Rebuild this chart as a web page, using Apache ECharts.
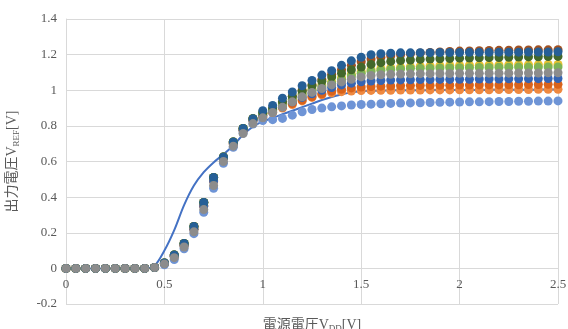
<!DOCTYPE html>
<html>
<head>
<meta charset="utf-8">
<script src="https://cdn.jsdelivr.net/npm/echarts@6/dist/echarts.min.js"></script>
<style>
  html, body { margin: 0; padding: 0; background: #fff; }
  #chart { width: 568px; height: 329px; }
</style>
</head>
<body>
<div id="chart"></div>
<script>
// supply voltage VDD [V], 0.05 V steps
const vdd = [
  0, 0.05, 0.1, 0.15, 0.2, 0.25, 0.3, 0.35, 0.4, 0.45,
  0.5, 0.55, 0.6, 0.65, 0.7, 0.75, 0.8, 0.85, 0.9, 0.95,
  1, 1.05, 1.1, 1.15, 1.2, 1.25, 1.3, 1.35, 1.4, 1.45,
  1.5, 1.55, 1.6, 1.65, 1.7, 1.75, 1.8, 1.85, 1.9, 1.95,
  2, 2.05, 2.1, 2.15, 2.2, 2.25, 2.3, 2.35, 2.4, 2.45, 2.5
];

// simulated curve (solid line)
const simLine = [
  0, 0, 0, 0, 0, 0, 0, 0, 0, 0.015,
  0.1, 0.215, 0.355, 0.465, 0.54, 0.595, 0.64, 0.69, 0.75, 0.795,
  0.825, 0.845, 0.865, 0.885, 0.905, 0.925, 0.945, 0.962, 0.976, 0.988,
  0.995, 0.997, 0.998, 0.999, 1, 1, 1, 1.001, 1.001, 1.001,
  1.002, 1.002, 1.002, 1.002, 1.003, 1.003, 1.003, 1.003, 1.004, 1.004, 1.004
];

// measured samples (markers)
const lowStart = [0, 0, 0, 0, 0, 0, 0, 0, 0, 0.005];

const brown = lowStart.concat([
  0.03, 0.075, 0.14, 0.235, 0.37, 0.51, 0.625, 0.71, 0.785, 0.84,
  0.87, 0.895, 0.93, 0.965, 1.0, 1.03, 1.06, 1.09, 1.115, 1.14,
  1.16, 1.175, 1.185, 1.193, 1.2, 1.205, 1.209, 1.212, 1.215, 1.218,
  1.22, 1.221, 1.222, 1.223, 1.224, 1.225, 1.226, 1.226, 1.227, 1.227, 1.228
]);
const lightBlue = lowStart.concat([
  0.02, 0.05, 0.11, 0.195, 0.315, 0.45, 0.59, 0.68, 0.76, 0.81,
  0.83, 0.835, 0.842, 0.86, 0.879, 0.892, 0.9, 0.907, 0.912, 0.917,
  0.92, 0.922, 0.924, 0.926, 0.928, 0.929, 0.93, 0.931, 0.932, 0.933,
  0.934, 0.935, 0.935, 0.936, 0.937, 0.937, 0.938, 0.938, 0.939, 0.939, 0.94
]);
const orange = lowStart.concat([
  0.028, 0.068, 0.13, 0.22, 0.35, 0.49, 0.62, 0.7, 0.775, 0.83,
  0.85, 0.875, 0.9, 0.92, 0.94, 0.96, 0.975, 0.985, 0.992, 0.996,
  0.998, 0.999, 1.0, 1.0, 1.001, 1.001, 1.001, 1.002, 1.002, 1.002,
  1.003, 1.003, 1.003, 1.003, 1.004, 1.004, 1.004, 1.004, 1.005, 1.005, 1.005
]);
const darkOrange = lowStart.concat([
  0.028, 0.068, 0.13, 0.22, 0.35, 0.49, 0.62, 0.7, 0.775, 0.83,
  0.855, 0.88, 0.905, 0.925, 0.945, 0.965, 0.98, 0.995, 1.005, 1.013,
  1.018, 1.021, 1.023, 1.024, 1.025, 1.026, 1.027, 1.027, 1.028, 1.028,
  1.029, 1.029, 1.03, 1.03, 1.03, 1.031, 1.031, 1.032, 1.032, 1.033, 1.033
]);
const gold = lowStart.concat([
  0.03, 0.075, 0.14, 0.235, 0.37, 0.51, 0.625, 0.71, 0.785, 0.84,
  0.87, 0.89, 0.92, 0.95, 0.98, 1.005, 1.03, 1.05, 1.07, 1.09,
  1.105, 1.115, 1.122, 1.127, 1.13, 1.133, 1.135, 1.137, 1.138, 1.139,
  1.14, 1.141, 1.141, 1.142, 1.142, 1.143, 1.143, 1.144, 1.144, 1.145, 1.145
]);
const blue = lowStart.concat([
  0.028, 0.068, 0.13, 0.22, 0.35, 0.49, 0.62, 0.7, 0.775, 0.83,
  0.86, 0.885, 0.91, 0.935, 0.96, 0.98, 1.0, 1.015, 1.03, 1.04,
  1.048, 1.052, 1.055, 1.057, 1.058, 1.059, 1.06, 1.06, 1.061, 1.061,
  1.062, 1.062, 1.063, 1.063, 1.063, 1.064, 1.064, 1.065, 1.065, 1.066, 1.066
]);
const lightGreen = lowStart.concat([
  0.03, 0.075, 0.14, 0.235, 0.37, 0.51, 0.625, 0.71, 0.785, 0.84,
  0.87, 0.89, 0.915, 0.945, 0.975, 1.0, 1.02, 1.04, 1.06, 1.08,
  1.095, 1.105, 1.112, 1.117, 1.12, 1.122, 1.123, 1.124, 1.125, 1.126,
  1.127, 1.127, 1.128, 1.128, 1.129, 1.129, 1.13, 1.13, 1.13, 1.131, 1.131
]);
const darkGreen = lowStart.concat([
  0.03, 0.075, 0.14, 0.235, 0.37, 0.51, 0.625, 0.71, 0.785, 0.84,
  0.875, 0.9, 0.935, 0.965, 0.995, 1.025, 1.05, 1.075, 1.095, 1.115,
  1.13, 1.145, 1.155, 1.162, 1.167, 1.17, 1.173, 1.175, 1.177, 1.178,
  1.18, 1.181, 1.182, 1.183, 1.184, 1.185, 1.186, 1.187, 1.188, 1.189, 1.19
]);
const darkBlue = lowStart.concat([
  0.03, 0.075, 0.14, 0.235, 0.37, 0.51, 0.625, 0.71, 0.785, 0.84,
  0.885, 0.915, 0.955, 0.99, 1.025, 1.055, 1.085, 1.11, 1.14, 1.165,
  1.185, 1.2, 1.205, 1.208, 1.21, 1.21, 1.211, 1.211, 1.212, 1.212,
  1.212, 1.213, 1.213, 1.213, 1.214, 1.214, 1.214, 1.215, 1.215, 1.215, 1.216
]);
const gray = lowStart.concat([
  0.025, 0.06, 0.12, 0.205, 0.33, 0.465, 0.6, 0.686, 0.757, 0.813,
  0.845, 0.875, 0.905, 0.935, 0.963, 0.988, 1.01, 1.03, 1.047, 1.062,
  1.075, 1.083, 1.087, 1.09, 1.091, 1.092, 1.093, 1.093, 1.094, 1.094,
  1.095, 1.095, 1.095, 1.096, 1.096, 1.096, 1.097, 1.097, 1.097, 1.098, 1.098
]);

// drawing order: first is at the bottom
const markerSeries = [
  { name: 'brown', data: brown, color: '#A2501F' },
  { name: 'lightBlue', data: lightBlue, color: '#6E94D6' },
  { name: 'orange', data: orange, color: '#EF8940' },
  { name: 'darkOrange', data: darkOrange, color: '#D9631B' },
  { name: 'gold', data: gold, color: '#E8C230' },
  { name: 'blue', data: blue, color: '#3565B4' },
  { name: 'lightGreen', data: lightGreen, color: '#7DB356' },
  { name: 'darkGreen', data: darkGreen, color: '#43682B' },
  { name: 'darkBlue', data: darkBlue, color: '#265F96' },
  { name: 'gray', data: gray, color: '#8C8C8C' },
];

const font = "'Liberation Serif', 'Noto Sans CJK JP', serif";
const textColor = '#595959';
const gridColor = '#D9D9D9';

const chart = echarts.init(document.getElementById('chart'), null, { renderer: 'canvas' });

const series = [
  {
    type: 'line',
    data: vdd.map((x, i) => [x, simLine[i]]),
    showSymbol: false,
    smooth: 0.3,
    lineStyle: { color: '#4472C4', width: 2 },
    z: 1,
  },
].concat(markerSeries.map((s, k) => ({
  type: 'scatter',
  name: s.name,
  data: vdd.map((x, i) => [x, s.data[i]]),
  symbolSize: 9,
  itemStyle: { color: s.color, opacity: 1 },
  z: 2 + k,
})));

const subStyle = { fontFamily: font, fontSize: 9, color: textColor, verticalAlign: 'bottom', padding: [8, 0, 0, 0] };

chart.setOption({
  animation: false,
  grid: { left: 66, right: 10, top: 19, bottom: 25, outerBoundsMode: 'none', containLabel: false },
  xAxis: {
    type: 'value',
    min: 0,
    max: 2.5,
    interval: 0.5,
    // the axis sits on y = 0, one 0.2 step above the bottom of the grid
    offset: -35.6,
    name: '電源電圧V{sub|DD}[V]',
    nameLocation: 'middle',
    nameGap: 48,
    nameMoveOverlap: false,
    nameTextStyle: { fontFamily: font, fontSize: 14, color: textColor, rich: { sub: subStyle } },
    axisLine: { onZero: false, lineStyle: { color: gridColor, width: 1 } },
    axisTick: { show: false },
    axisLabel: { fontFamily: font, fontSize: 13, color: textColor, margin: 10 },
    splitLine: { show: true, lineStyle: { color: gridColor, width: 1 } },
  },
  yAxis: {
    type: 'value',
    min: -0.2,
    max: 1.4,
    interval: 0.2,
    name: '出力電圧V{sub|REF}[V]',
    nameLocation: 'middle',
    nameGap: 45,
    nameMoveOverlap: false,
    nameTextStyle: { fontFamily: font, fontSize: 14, color: textColor, rich: { sub: subStyle } },
    axisLine: { show: true, onZero: false, lineStyle: { color: gridColor, width: 1 } },
    axisTick: { show: false },
    axisLabel: { fontFamily: font, fontSize: 13, color: textColor, margin: 9 },
    splitLine: { show: true, lineStyle: { color: gridColor, width: 1 } },
  },
  series: series,
});
</script>
</body>
</html>
